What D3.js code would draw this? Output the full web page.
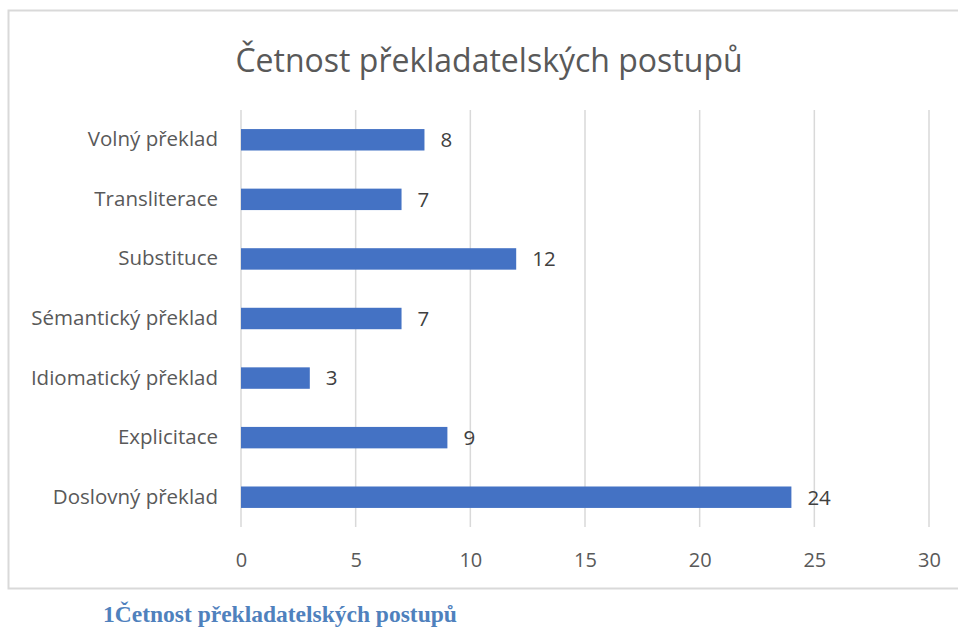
<!DOCTYPE html>
<html>
<head>
<meta charset="utf-8">
<script src="https://cdn.jsdelivr.net/npm/d3@7"></script>
<style>
  body { margin: 0; background: #fff; }
  svg { display: block; }
</style>
</head>
<body>
<svg id="plot" width="958" height="630"></svg>
<script>
// chart data
const categories = ["Volný překlad", "Transliterace", "Substituce", "Sémantický překlad",
  "Idiomatický překlad", "Explicitace", "Doslovný překlad"];
const counts = [8, 7, 12, 7, 3, 9, 24];
const xTicks = [0, 5, 10, 15, 20, 25, 30];
const chartTitle = "Četnost překladatelských postupů";
const captionText = "1Četnost překladatelských postupů";

const svg = d3.select("#plot");
const font = "'Open Sans', 'Noto Sans', sans-serif";

// chart frame (right side runs off the page)
svg.append("rect")
  .attr("x", 8.5).attr("y", 10.5)
  .attr("width", 960).attr("height", 578)
  .attr("fill", "#fff")
  .attr("stroke", "#d9d9d9")
  .attr("stroke-width", 2);

const plot = { left: 241, right: 929, top: 110, bottom: 527 };

const xScale = d3.scaleLinear()
  .domain([0, 30])
  .range([plot.left, plot.right]);

const yScale = d3.scaleBand()
  .domain(categories)
  .range([plot.top, plot.bottom])
  .paddingInner(0.64)
  .paddingOuter(0.32);

// gridlines
svg.append("g")
  .selectAll("line")
  .data(xTicks)
  .enter().append("line")
  .attr("x1", d => xScale(d)).attr("x2", d => xScale(d))
  .attr("y1", plot.top).attr("y2", plot.bottom)
  .attr("stroke", "#d9d9d9")
  .attr("stroke-width", 1.5);

// x axis labels
const xAxis = svg.append("g")
  .attr("transform", "translate(0," + plot.bottom + ")")
  .call(d3.axisBottom(xScale).tickValues(xTicks).tickSize(0).tickPadding(0));
xAxis.select(".domain").remove();
xAxis.selectAll("text")
  .attr("y", 40)
  .attr("dy", null)
  .attr("font-family", font)
  .attr("font-size", 20)
  .attr("fill", "#595959");

// y axis labels
const yAxis = svg.append("g")
  .attr("transform", "translate(" + (plot.left - 23) + ",0)")
  .call(d3.axisLeft(yScale).tickSize(0).tickPadding(0));
yAxis.select(".domain").remove();
yAxis.selectAll("text")
  .attr("font-family", font)
  .attr("font-size", 20.5)
  .attr("fill", "#595959");

// bars
svg.selectAll(".bar")
  .data(categories)
  .enter().append("rect")
  .attr("class", "bar")
  .attr("x", xScale(0))
  .attr("y", d => yScale(d))
  .attr("width", (d, i) => xScale(counts[i]) - xScale(0))
  .attr("height", yScale.bandwidth())
  .attr("fill", "#4472c4");

// value labels
svg.selectAll(".val")
  .data(categories)
  .enter().append("text")
  .attr("class", "val")
  .attr("x", (d, i) => xScale(counts[i]) + 16)
  .attr("y", d => yScale(d) + yScale.bandwidth() / 2)
  .attr("dy", "0.36em")
  .attr("font-family", font)
  .attr("font-size", 20.5)
  .attr("fill", "#404040")
  .text((d, i) => counts[i]);

// title
svg.append("text")
  .attr("x", 489)
  .attr("y", 72)
  .attr("text-anchor", "middle")
  .attr("font-family", font)
  .attr("font-size", 32)
  .attr("fill", "#595959")
  .text(chartTitle);

// caption under the chart
svg.append("text")
  .attr("x", 103)
  .attr("y", 622)
  .attr("font-family", "'Liberation Serif', 'Times New Roman', serif")
  .attr("font-weight", "bold")
  .attr("font-size", 23.5)
  .attr("fill", "#4f81bd")
  .text(captionText);
</script>
</body>
</html>
